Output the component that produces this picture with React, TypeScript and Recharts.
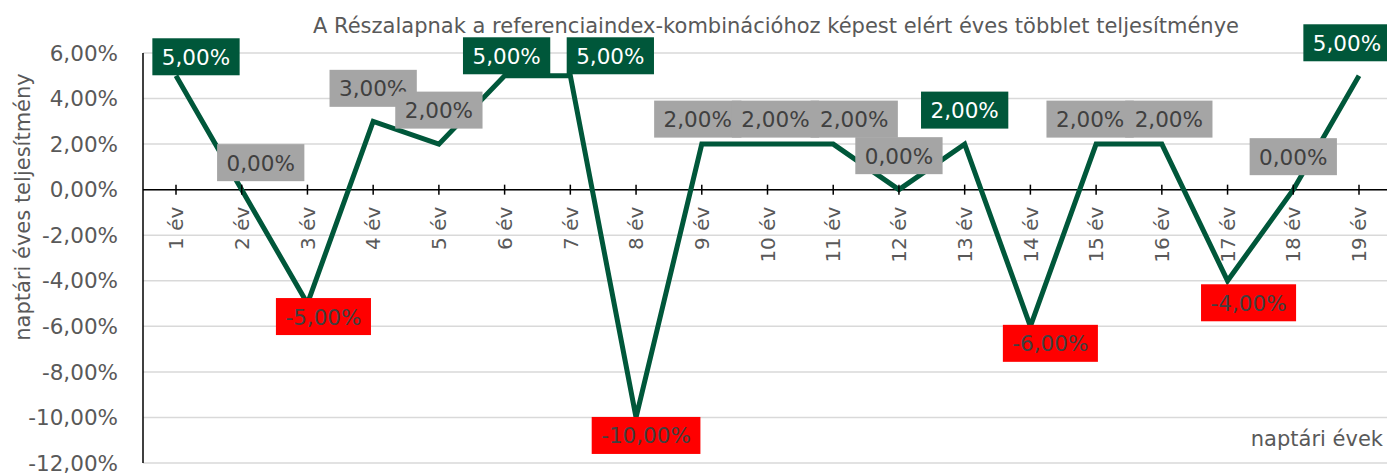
import { LineChart, Line, XAxis, YAxis, CartesianGrid, ReferenceLine, LabelList } from 'recharts'

const categories = ['1 év', '2 év', '3 év', '4 év', '5 év', '6 év', '7 év', '8 év', '9 év', '10 év',
  '11 év', '12 év', '13 év', '14 év', '15 év', '16 év', '17 év', '18 év', '19 év']
const values = [5, 0, -5, 3, 2, 5, 5, -10, 2, 2, 2, 0, 2, -6, 2, 2, -4, 0, 5]
const yTicks = [-12, -10, -8, -6, -4, -2, 0, 2, 4, 6]
const labelKinds = ['green', 'gray', 'red', 'gray', 'gray', 'green', 'green', 'red', 'gray', 'gray',
  'gray', 'gray', 'green', 'red', 'gray', 'gray', 'red', 'gray', 'green']

// hand-placed label offsets (box centre relative to the point), like the source
const labelDx = [20, 19, 16, 0, 0, 2, 40, 10, -4, 8, 21, 0, 0, 20, -6, 7, 21, 0, -12]
const labelDy = [-19, -27, 13, -33, -34, -20, -20, 18, -25, -25, -25, -34, -34, 17, -25, -25, 22, -33, -33]

const title = 'A Részalapnak a referenciaindex-kombinációhoz képest elért éves többlet teljesítménye'
const yTitle = 'naptári éves teljesítmény'
const xTitle = 'naptári évek'

const data = categories.map((name, i) => ({ name, value: values[i], base: 0 }))

const FONT = "Tahoma, 'DejaVu Sans', sans-serif"
const GREEN = '#00573a'
const TEXT = '#595959'
const LABEL_SIZE = 21.5
const boxFill: Record<string, string> = { green: GREEN, gray: '#a5a5a5', red: '#ff0000' }
const boxText: Record<string, string> = { green: '#ffffff', gray: '#404040', red: '#404040' }

const fmt = (v: number) => v.toFixed(2).replace('.', ',') + '%'

function textWidth(s: string) {
  let w = 0
  for (const ch of s) w += ch === '-' ? 0.361 : ch === ',' ? 0.318 : ch === '%' ? 0.95 : 0.636
  return w * LABEL_SIZE
}

function DataLabel(props: any) {
  const { x, y, value, index } = props
  if (x == null || y == null) return null
  const s = fmt(Number(value))
  const w = textWidth(s) + 19
  const h = 37
  const cx = x + labelDx[index]
  const cy = y + labelDy[index]
  const kind = labelKinds[index]
  return (
    <g>
      <rect x={cx - w / 2} y={cy - h / 2} width={w} height={h} fill={boxFill[kind]} />
      <text x={cx} y={cy + 8} textAnchor="middle" fontSize={LABEL_SIZE} fontFamily={FONT} fill={boxText[kind]}>{s}</text>
    </g>
  )
}

function AxisTick(props: any) {
  const { cx, cy, payload } = props
  if (cx == null || cy == null) return null
  return (
    <g>
      <line x1={cx} x2={cx} y1={cy - 5} y2={cy + 5} stroke="#000" strokeWidth={1.5} />
      <text
        x={cx} y={cy + 17} dy="0.36em" textAnchor="end" fontSize={20} fontFamily={FONT} fill={TEXT}
        transform={`rotate(-90, ${cx}, ${cy + 17})`}
      >{payload.name}</text>
    </g>
  )
}

export default function App() {
  return (
    <div style={{ position: 'absolute', left: 0, top: 0, width: 1387, height: 473, overflow: 'hidden', background: '#fff' }}>
      <LineChart width={1395} height={473} data={data} margin={{ top: 53, right: 3, left: 0, bottom: 10 }}>
        <CartesianGrid vertical={false} stroke="#d9d9d9" strokeWidth={1.5} />
        <XAxis dataKey="name" hide padding={{ left: 33, right: 33 }} />
        <YAxis
          width={143} domain={[-12, 6]} ticks={yTicks} tickFormatter={fmt} interval={0}
          axisLine={{ stroke: '#000', strokeWidth: 1.5 }} tickLine={false} tickSize={0} tickMargin={25}
          tick={{ fontSize: 21.5, fontFamily: FONT, fill: TEXT }}
        />
        <ReferenceLine y={0} stroke="#000" strokeWidth={1.5} />
        <Line dataKey="base" stroke="none" dot={<AxisTick />} activeDot={false} isAnimationActive={false} legendType="none" />
        <Line dataKey="value" stroke={GREEN} strokeWidth={5} dot={false} activeDot={false} isAnimationActive={false}>
          <LabelList dataKey="value" content={<DataLabel />} />
        </Line>
      </LineChart>
      <svg width={1387} height={473} style={{ position: 'absolute', left: 0, top: 0, pointerEvents: 'none' }}>
        <text x={776} y={33} textAnchor="middle" fontSize={21} fontFamily={FONT} fill={TEXT}>{title}</text>
        <text x={30} y={207} textAnchor="middle" fontSize={21} fontFamily={FONT} fill={TEXT}
          transform="rotate(-90, 30, 207)">{yTitle}</text>
        <text x={1383} y={446} textAnchor="end" fontSize={21} fontFamily={FONT} fill={TEXT}>{xTitle}</text>
      </svg>
    </div>
  )
}
